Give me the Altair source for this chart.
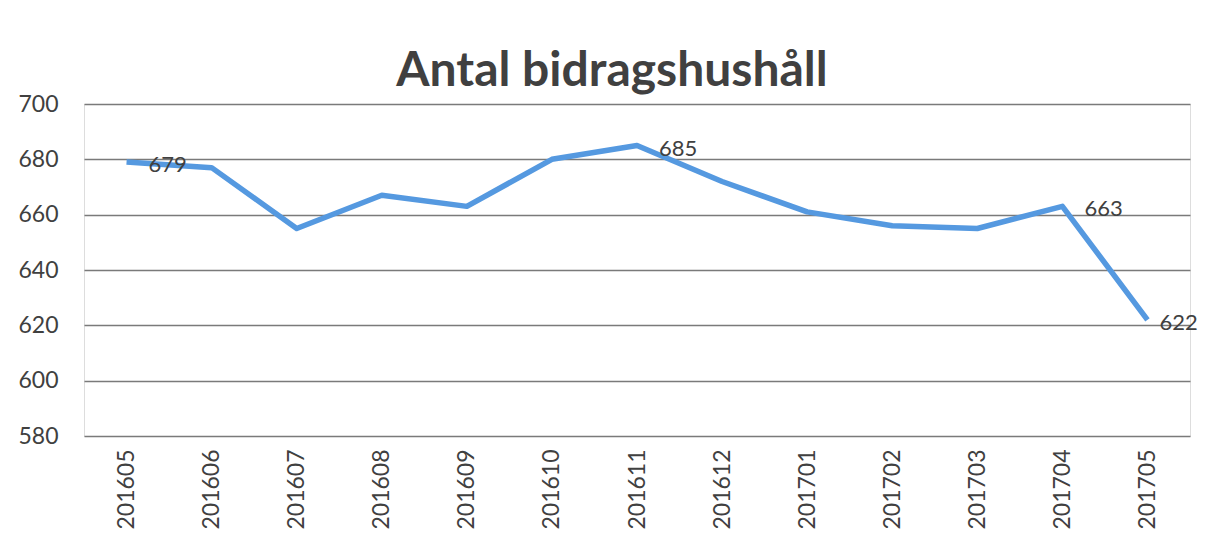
import altair as alt
import pandas as pd

months = ["201605", "201606", "201607", "201608", "201609", "201610", "201611",
          "201612", "201701", "201702", "201703", "201704", "201705"]
values = [679, 677, 655, 667, 663, 680, 685, 672, 661, 656, 655, 663, 622]
labels = ["679", "", "", "", "", "", "685", "", "", "", "", "663", "622"]
y_ticks = [580, 600, 620, 640, 660, 680, 700]
title = "Antal bidragshushåll"

df = pd.DataFrame({"month": months, "value": values, "label": labels})

FONT = "Lato"
TXT = "#404040"
last_month = months[-1]

x_enc = alt.X("month:O", sort=months, title=None,
              scale=alt.Scale(type="point", padding=0.5),
              axis=alt.Axis(labelAngle=-90, labelFontSize=23, labelFont=FONT,
                            labelColor=TXT, domain=False, ticks=False,
                            labelPadding=13, grid=False))
y_enc = alt.Y("value:Q", title=None,
              scale=alt.Scale(domain=[580, 700], nice=False, zero=False),
              axis=alt.Axis(values=y_ticks, labelFontSize=23, labelFont=FONT,
                            labelColor=TXT, domain=False, ticks=False, tickSize=0,
                            labelAlign="left", labelPadding=66,
                            grid=True, gridColor="#7a7a7a", gridWidth=1.3))

base = alt.Chart(df)

line = base.mark_line(color="#5599E0", strokeWidth=5.5, strokeJoin="round").encode(
    x=x_enc, y=y_enc)

text_main = base.transform_filter(
    (alt.datum.label != "") & (alt.datum.month != last_month)
).mark_text(
    align="left", baseline="middle", dx=22, dy=3, fontSize=22, font=FONT,
    color=TXT).encode(x=x_enc, y=y_enc, text="label:N")

text_last = base.transform_filter(
    (alt.datum.label != "") & (alt.datum.month == last_month)
).mark_text(
    align="left", baseline="middle", dx=12, dy=3, fontSize=22, font=FONT,
    color=TXT).encode(x=x_enc, y=y_enc, text="label:N")

chart = alt.layer(line, text_main, text_last).properties(
    width=1106, height=332,
    title=alt.TitleParams(title, fontSize=48, font=FONT, fontWeight="bold",
                          color=TXT, anchor="middle", offset=-3, dx=-25),
    padding={"left": 76, "top": 96, "right": 10, "bottom": 100},
    autosize="none",
).configure_view(stroke=None).configure(background="white")

chart.save("out.html", embed_options={"renderer": "svg", "actions": False})
